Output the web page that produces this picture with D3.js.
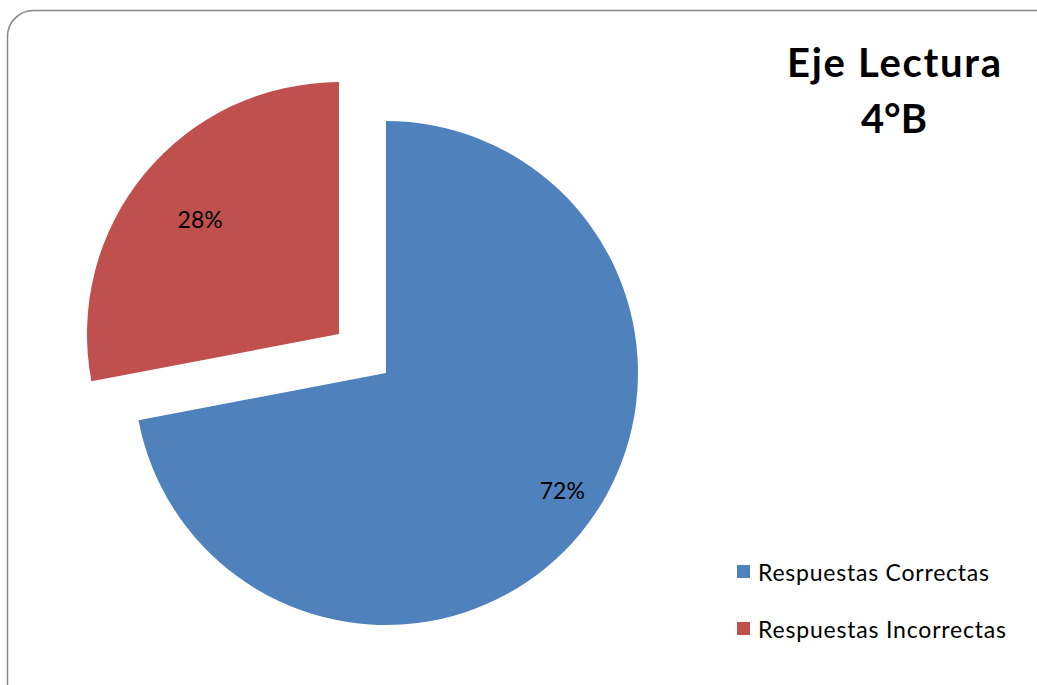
<!DOCTYPE html>
<html>
<head>
<meta charset="utf-8">
<script src="https://cdn.jsdelivr.net/npm/d3@7"></script>
<style>
  html, body { margin: 0; padding: 0; background: #fff; }
  svg { display: block; }
  text { font-family: Lato, "Open Sans", "Liberation Sans", sans-serif; }
</style>
</head>
<body>
<svg id="chart" width="1037" height="685"></svg>
<script>
// Chart data
const categories = ["Respuestas Correctas", "Respuestas Incorrectas"];
const values = [72, 28];
const colors = ["#4F81BD", "#C0504D"];
const exploded = [false, true];
const titleLines = ["Eje Lectura", "4°B"];

const W = 1037, H = 685;
const svg = d3.select("#chart");

// Chart area frame with rounded corners (runs past the right and bottom edges)
svg.append("rect")
  .attr("x", 7.5).attr("y", 10.5)
  .attr("width", 1055).attr("height", 700)
  .attr("rx", 26).attr("ry", 26)
  .attr("fill", "#fff")
  .attr("stroke", "#868686")
  .attr("stroke-width", 1.5);

const cx = 386, cy = 373, radius = 252;
const explodeDist = 61;

const pie = d3.pie().sort(null).value(d => d.value);
const arcs = pie(categories.map((c, i) => ({ name: c, value: values[i], color: colors[i], exploded: exploded[i] })));
const arc = d3.arc().innerRadius(0).outerRadius(radius);

// Label placement: distance from slice vertex (fraction of radius) and angular nudge (deg)
const labelRadius = [0.84, 0.715];
const labelNudge = [-6, 0];
const total = d3.sum(values);

const g = svg.append("g").attr("transform", `translate(${cx},${cy})`);

arcs.forEach((a, i) => {
  const mid = (a.startAngle + a.endAngle) / 2;
  const off = a.data.exploded ? explodeDist : 0;
  const dx = Math.sin(mid) * off, dy = -Math.cos(mid) * off;
  const sg = g.append("g").attr("transform", `translate(${dx},${dy})`);
  sg.append("path").attr("d", arc(a)).attr("fill", a.data.color);

  const la = mid + labelNudge[i] * Math.PI / 180;
  const lr = radius * labelRadius[i];
  sg.append("text")
    .attr("x", Math.sin(la) * lr)
    .attr("y", -Math.cos(la) * lr)
    .attr("text-anchor", "middle")
    .attr("dominant-baseline", "central")
    .attr("font-size", 23)
    .attr("fill", "#000")
    .text(d3.format(".0%")(a.data.value / total));
});

// Title
const titleX = 894;
svg.append("text")
  .attr("x", titleX).attr("y", 77)
  .attr("text-anchor", "middle")
  .attr("font-size", 40)
  .attr("font-weight", "bold")
  .attr("fill", "#000")
  .attr("textLength", 214)
  .attr("lengthAdjust", "spacing")
  .text(titleLines[0]);
svg.append("text")
  .attr("x", titleX).attr("y", 133)
  .attr("text-anchor", "middle")
  .attr("font-size", 40)
  .attr("font-weight", "bold")
  .attr("fill", "#000")
  .attr("textLength", 66)
  .attr("lengthAdjust", "spacing")
  .text(titleLines[1]);

// Legend
const legendWidths = [231, 248];
const legend = svg.append("g");
categories.forEach((c, i) => {
  const y = 572 + i * 57;
  legend.append("rect")
    .attr("x", 737).attr("y", y - 7)
    .attr("width", 13).attr("height", 13)
    .attr("fill", colors[i]);
  legend.append("text")
    .attr("x", 758).attr("y", y)
    .attr("dominant-baseline", "central")
    .attr("font-size", 23)
    .attr("fill", "#000")
    .attr("textLength", legendWidths[i])
    .attr("lengthAdjust", "spacing")
    .text(c);
});
</script>
</body>
</html>
